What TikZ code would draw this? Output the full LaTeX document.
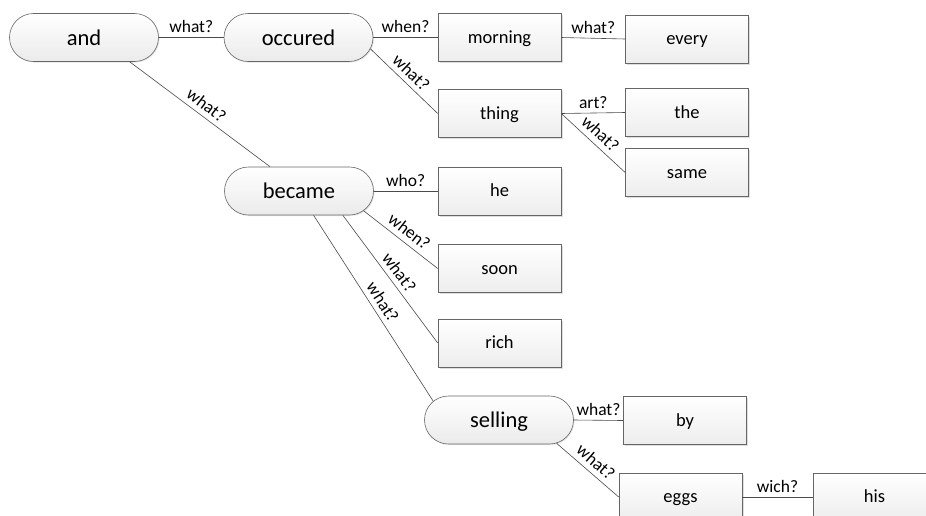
\documentclass[tikz,border=0pt]{standalone}
\usepackage{fontspec}
\setmainfont{Carlito}
\usetikzlibrary{shapes.misc,shadows}
\definecolor{edgecol}{HTML}{4A4A4A}
\definecolor{bordercol}{HTML}{666666}
\begin{document}
\begin{tikzpicture}[x=1pt,y=-1pt,
  pill/.style={rounded rectangle, draw=bordercol, line width=0.6pt,
    top color=white, bottom color=gray!16,
    minimum width=149pt, minimum height=48pt, inner sep=0pt,
    text height=18pt, text depth=3pt,
    font=\fontsize{22.5}{26}\selectfont,
    drop shadow={shadow xshift=1pt, shadow yshift=-1pt, opacity=0.2}},
  box/.style={rectangle, draw=bordercol, line width=0.6pt,
    top color=white, bottom color=gray!14,
    minimum width=123pt, minimum height=48pt, inner sep=0pt,
    text height=14pt, text depth=2.4pt,
    font=\fontsize{18.5}{22}\selectfont,
    drop shadow={shadow xshift=1.8pt, shadow yshift=-1.8pt, opacity=0.25}},
  lbl/.style={font=\fontsize{17.5}{20}\selectfont, inner sep=1.5pt,
    text height=12.5pt, text depth=0pt},
  conn/.style={draw=edgecol, line width=0.6pt}]
\useasboundingbox (0,0) rectangle (926,515);
\clip (0,0) rectangle (926,515);
\fill[white] (0,0) rectangle (926,515);

% pills
\node[pill] (and)     at (84,37.5)  {and};
\node[pill] (occured) at (298.5,37.5) {occured};
\node[pill] (became)  at (299,191)  {became};
\node[pill] (selling) at (499,420)  {selling};

% boxes
\node[box] (morning) at (499.5,37.5) {morning};
\node[box] (every)   at (687,39)     {every};
\node[box] (thing)   at (499.5,113.5) {thing};
\node[box] (the)     at (687,112.5)  {the};
\node[box] (same)    at (687,172.5)  {same};
\node[box] (he)      at (499.5,191)  {he};
\node[box] (soon)    at (499.5,268.5) {soon};
\node[box] (rich)    at (499.5,343)  {rich};
\node[box] (by)      at (685,420.5)  {by};
\node[box] (eggs)    at (680.5,497)  {eggs};
\node[box] (his)     at (874.5,497)  {his};

% connectors
\draw[conn] (and.east) -- node[lbl,above=3.2pt] {what?} (occured.west);
\draw[conn] (and.-28) -- node[lbl,sloped,above=3.5pt,pos=0.5] {what?} (became.140.4);
\draw[conn] (occured.east) -- node[lbl,above=3.2pt] {when?} (morning.west);
\draw[conn] (occured.-9.65) -- node[lbl,sloped,above=3.5pt,pos=0.49] {what?} (thing.west);
\draw[conn] (morning.east) -- node[lbl,above=3.2pt] {what?} (every.west);
\draw[conn] (thing.east) -- node[lbl,above=3.2pt] {art?} (the.west);
\draw[conn] (thing.east) -- node[lbl,sloped,above=4pt,pos=0.49] {what?} (same.west);
\draw[conn] (became.east) -- node[lbl,above=3.2pt] {who?} (he.west);
\draw[conn] (became.-17.9) -- node[lbl,sloped,above=4pt,pos=0.52] {when?} (soon.west);
\draw[conn] (became.-29.1) -- node[lbl,sloped,above=3.5pt,pos=0.5] {what?} (rich.west);
\draw[conn] (became.-59) -- node[lbl,sloped,above=3.5pt,pos=0.5] {what?} (selling.164.7);
\draw[conn] (selling.east) -- node[lbl,above=3.2pt] {what?} (by.west);
\draw[conn] (selling.-22.1) -- node[lbl,sloped,above=4pt,pos=0.51] {what?} (eggs.west);
\draw[conn] (eggs.east) -- node[lbl,above=3.2pt] {wich?} (his.west);
\end{tikzpicture}
\end{document}
